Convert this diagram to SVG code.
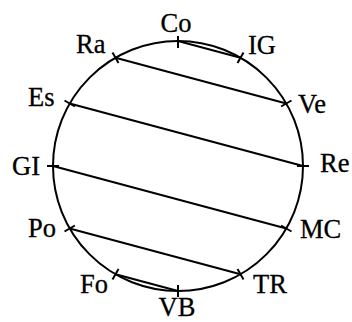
<svg xmlns="http://www.w3.org/2000/svg" width="352" height="322" viewBox="0 0 352 322">
<style>
.c{fill:none;stroke:#000;stroke-width:2}
.t{stroke:#000;stroke-width:2}
.ch{stroke:#000;stroke-width:2;fill:none}
text{font-family:"Liberation Serif","Times New Roman",serif;font-size:26.5px;fill:#000;stroke:#000;stroke-width:0.3}
</style>
<rect width="352" height="322" fill="#fff"/>
<circle class="c" cx="178" cy="166" r="125"/>
<g id="connectors">
<line class="ch" x1="115.5" y1="57.7" x2="286.3" y2="103.5"/>
<line class="ch" x1="69.7" y1="103.5" x2="303" y2="166"/>
<line class="ch" x1="53" y1="166" x2="286.3" y2="228.5"/>
<line class="ch" x1="69.7" y1="228.5" x2="240.5" y2="274.3"/>
<line class="ch" x1="178" y1="41" x2="240.5" y2="57.7"/>
<line class="ch" x1="115.5" y1="274.3" x2="178" y2="291"/>
</g>
<g id="Co"><line class="t" x1="178" y1="36" x2="178" y2="48"/><text x="176" y="32" text-anchor="middle">Co</text></g>
<g id="IG"><line class="t" x1="237.5" y1="62.9" x2="243.5" y2="52.5"/><text x="248" y="54">IG</text></g>
<g id="Ve"><line class="t" x1="281.1" y1="106.5" x2="291.5" y2="100.5"/><text x="298" y="113">Ve</text></g>
<g id="Re"><line class="t" x1="297" y1="166" x2="309" y2="166"/><text x="320" y="172">Re</text></g>
<g id="MC"><line class="t" x1="281.1" y1="225.5" x2="291.5" y2="231.5"/><text x="300" y="238">MC</text></g>
<g id="TR"><line class="t" x1="237.5" y1="269.1" x2="243.5" y2="279.5"/><text x="253" y="293">TR</text></g>
<g id="VB"><line class="t" x1="178" y1="285" x2="178" y2="297"/><text x="177" y="316" text-anchor="middle">VB</text></g>
<g id="Fo"><line class="t" x1="118.5" y1="269.1" x2="112.5" y2="279.5"/><text x="80" y="293">Fo</text></g>
<g id="Po"><line class="t" x1="74.9" y1="225.5" x2="64.5" y2="231.5"/><text x="28" y="237">Po</text></g>
<g id="GI"><line class="t" x1="59" y1="166" x2="47" y2="166"/><text x="12" y="175">GI</text></g>
<g id="Es"><line class="t" x1="74.9" y1="106.5" x2="64.5" y2="100.5"/><text x="28" y="106">Es</text></g>
<g id="Ra"><line class="t" x1="118.5" y1="62.9" x2="112.5" y2="52.5"/><text x="76" y="53">Ra</text></g>
</svg>
